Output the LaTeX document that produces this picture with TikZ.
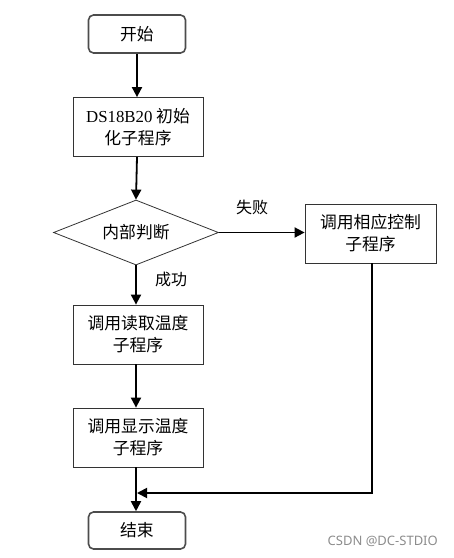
\documentclass[tikz,border=0pt]{standalone}
\usepackage{fontspec}
\newfontfamily\cjk{Noto Sans CJK SC}
\newfontfamily\latinserif{Liberation Serif}
\newfontfamily\wmfont{Noto Sans}
\usetikzlibrary{arrows.meta,shapes.geometric}
\begin{document}
\begin{tikzpicture}[x=1pt,y=-1pt,
  every node/.style={font=\cjk\fontsize{16.8}{22}\selectfont, align=center, inner sep=0pt},
  term/.style={draw=black!70, line width=1.6pt, rounded corners=5pt, minimum width=97pt, minimum height=38pt},
  proc/.style={draw=black!80, line width=0.8pt, minimum width=130pt, minimum height=59pt},
  decis/.style={draw=black!80, line width=0.8pt, diamond, aspect=2.54, minimum width=165pt, minimum height=65pt},
  flow/.style={line width=1.8pt, -{Triangle[width=10pt,length=10pt]}},
  lbl/.style={font=\cjk\fontsize{16}{18}\selectfont}
]
\useasboundingbox (0,0) rectangle (454,558);
\node[term] (start) at (137,34) {开始};
\node[proc] (init) at (138,127) {{\latinserif DS18B20} 初始\\化子程序};
\node[decis] (dec) at (136,232.5) {内部判断};
\node[proc, minimum width=131pt] (ctrl) at (370.5,233.5) {调用相应控制\\子程序};
\node[proc] (read) at (138,334.5) {调用读取温度\\子程序};
\node[proc] (disp) at (138,437.5) {调用显示温度\\子程序};
\node[term, minimum height=37pt] (stop) at (137,530.5) {结束};
\coordinate (corner) at (372,493);
\coordinate (merge) at (137,493);
\draw[flow] (start.south) -- (start.south |- init.north);
\draw[flow] (init.south -| start.south) -- (dec.north);
\draw[flow] (dec.east) -- (ctrl.west |- dec.east);
\draw[flow] (dec.south) -- (dec.south |- read.north);
\draw[flow] (read.south -| dec.south) -- (dec.south |- disp.north);
\draw[flow] (disp.south -| dec.south) -- (dec.south |- stop.north);
\draw[flow] (ctrl.south -| corner) -- (corner) -- (merge);
\node[lbl] (fail) at (252,207) {失败};
\node[lbl] (succ) at (171,279) {成功};
\node[font=\wmfont\fontsize{13}{15}\selectfont, text=black!45, anchor=east] (wm) at (438,541) {CSDN @DC-STDIO};
\end{tikzpicture}
\end{document}
